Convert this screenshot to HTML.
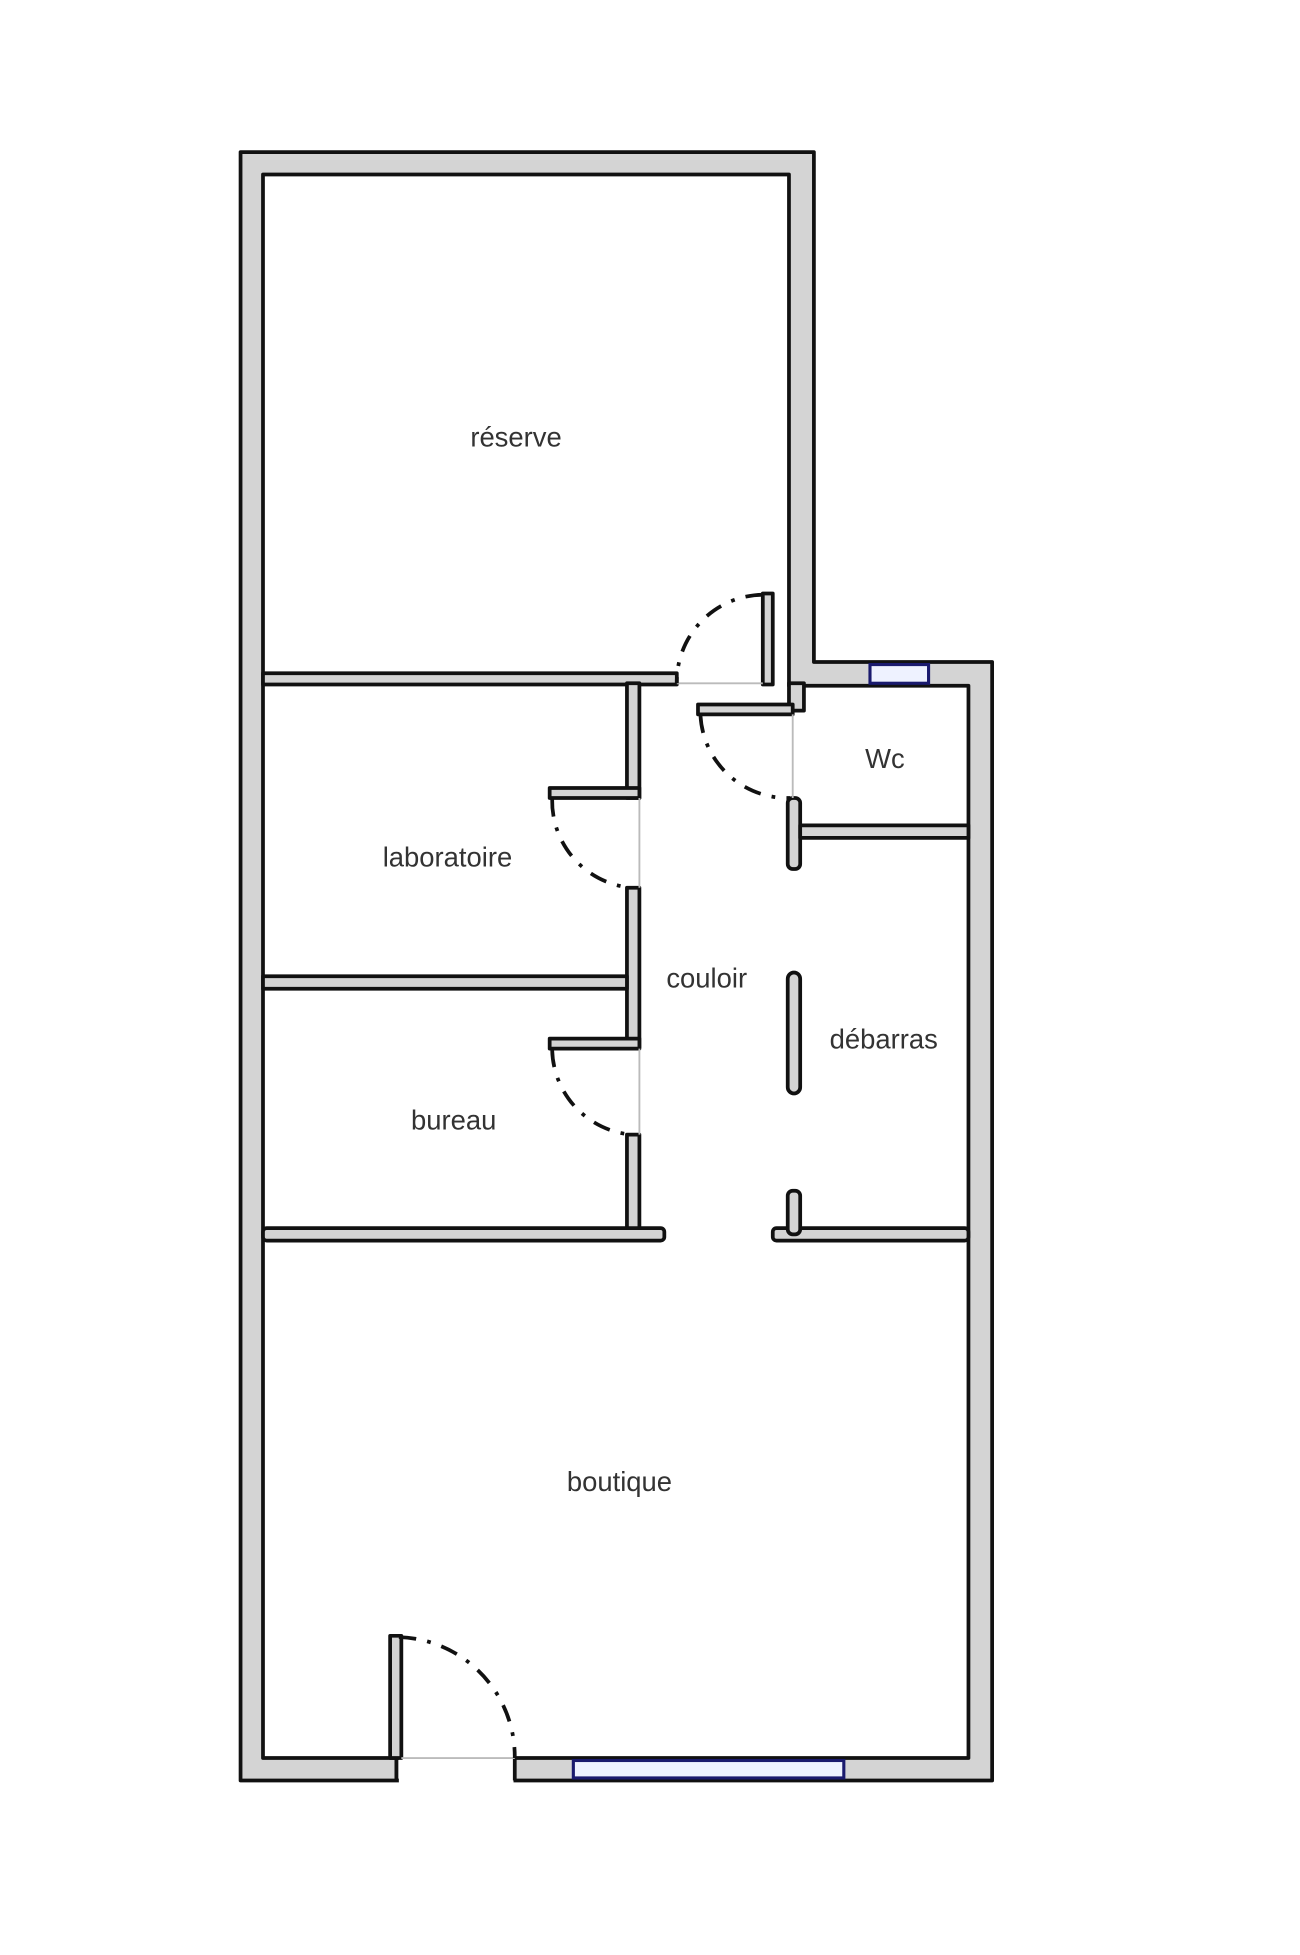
<!DOCTYPE html>
<html><head><meta charset="utf-8"><style>
html,body{margin:0;padding:0;background:#fff}
svg{display:block}
text{font-family:"Liberation Sans",sans-serif;font-size:22px;fill:#333;text-anchor:middle}
</style></head><body>
<svg width="1300" height="1955" viewBox="0 0 1043 1568" preserveAspectRatio="none">
<g stroke="#111" stroke-width="3" stroke-linejoin="round">
<path fill="#d4d4d4" fill-rule="evenodd" d="M193,122 H653 V531 H796 V1428 H193 Z M211,140 V1410 H777 V550 H633 V140 Z"/>
</g>
<!-- entrance gap -->
<rect x="320" y="1406" width="92" height="25" fill="#fff"/>
<line x1="318" y1="1410" x2="318" y2="1428" stroke="#111" stroke-width="3"/>
<line x1="413" y1="1410" x2="413" y2="1428" stroke="#111" stroke-width="3"/>
<!-- windows -->
<rect x="698" y="533" width="47" height="15" fill="#eef2ff" stroke="#1a1a6e" stroke-width="2.5"/>
<rect x="460" y="1412" width="217" height="14" fill="#eef2ff" stroke="#1a1a6e" stroke-width="2.5"/>
<!-- interior walls -->
<g fill="#d4d4d4" stroke="#111" stroke-width="3" stroke-linejoin="round">
<rect x="211" y="540" width="332" height="9"/>
<rect x="612" y="476" width="8" height="73"/>
<rect x="633" y="548" width="12" height="22"/>
<rect x="503" y="548" width="10" height="92"/>
<rect x="503" y="712" width="10" height="128"/>
<rect x="503" y="910" width="10" height="85"/>
<rect x="211" y="783" width="292" height="10"/>
<rect x="211" y="985" width="322" height="10" rx="3"/>
<rect x="620" y="985" width="157" height="10" rx="3"/>
<rect x="560" y="565" width="76" height="8"/>
<rect x="632" y="640" width="10" height="57" rx="4"/>
<rect x="642" y="662" width="135" height="10"/>
<rect x="632" y="780" width="10" height="97" rx="5"/>
<rect x="632" y="955" width="10" height="35" rx="4"/>
<rect x="441" y="632" width="72" height="8"/>
<rect x="441" y="833" width="72" height="8"/>
<rect x="313" y="1312" width="9" height="98"/>
</g>
<!-- thresholds -->
<g stroke="#bbb" stroke-width="1.5">
<line x1="543" y1="548" x2="612" y2="548"/>
<line x1="513" y1="640" x2="513" y2="712"/>
<line x1="513" y1="841" x2="513" y2="910"/>
<line x1="636" y1="573" x2="636" y2="640"/>
<line x1="322" y1="1410" x2="413" y2="1410"/>
</g>
<!-- door arcs -->
<g fill="none" stroke="#111" stroke-width="3" stroke-dasharray="14 9 3 9">
<path d="M612,477 A70,70 0 0 0 543,548"/>
<path d="M562,574 A70,70 0 0 0 634,640"/>
<path d="M443,641 A70,70 0 0 0 506,712"/>
<path d="M443,842 A70,70 0 0 0 506,910"/>
<path d="M320,1313 A96,96 0 0 1 413,1410"/>
</g>
<text x="414" y="358">réserve</text>
<text x="359" y="695">laboratoire</text>
<text x="567" y="792">couloir</text>
<text x="709" y="841">débarras</text>
<text x="710" y="616">Wc</text>
<text x="364" y="906">bureau</text>
<text x="497" y="1196">boutique</text>
</svg>
</body></html>
